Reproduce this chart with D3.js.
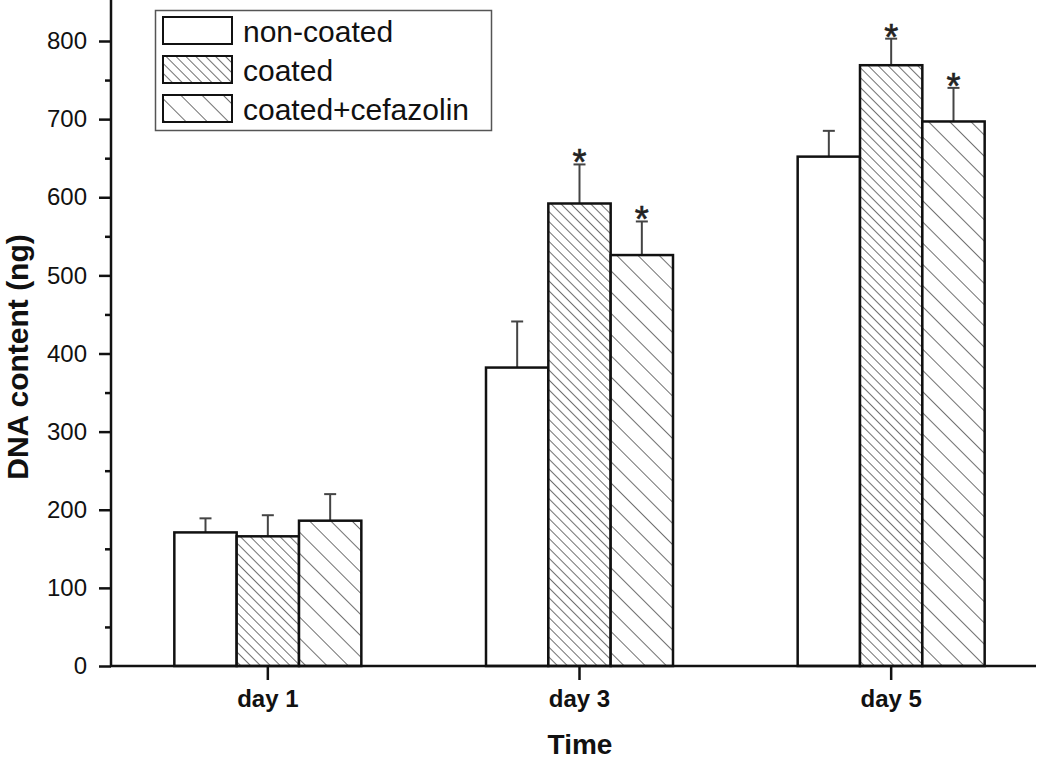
<!DOCTYPE html>
<html>
<head>
<meta charset="utf-8">
<script src="https://cdn.jsdelivr.net/npm/d3@7"></script>
<style>
  html, body { margin: 0; padding: 0; background: #ffffff; }
  svg { display: block; font-family: "Liberation Sans", Arial, sans-serif; }
</style>
</head>
<body>
<svg id="chart" width="1050" height="760"></svg>
<script>
const categories = ["day 1", "day 3", "day 5"];
const seriesNames = ["non-coated", "coated", "coated+cefazolin"];
const nonCoated = [171, 382, 652];
const coated = [166, 592, 769];
const coatedCef = [186, 526, 697];
const errNonCoated = [18, 59, 33];
const errCoated = [27, 50, 34];
const errCoatedCef = [34, 43, 43];
const sigCoated = [false, true, true];
const sigCoatedCef = [false, true, true];
const yTicks = [0, 100, 200, 300, 400, 500, 600, 700, 800];
const yMinorTicks = [50, 150, 250, 350, 450, 550, 650, 750];

const series = [
  { name: seriesNames[0], values: nonCoated, errs: errNonCoated, sig: [false,false,false], fill: "#ffffff" },
  { name: seriesNames[1], values: coated, errs: errCoated, sig: sigCoated, fill: "url(#hatchDense)" },
  { name: seriesNames[2], values: coatedCef, errs: errCoatedCef, sig: sigCoatedCef, fill: "url(#hatchSparse)" }
];

const svg = d3.select("#chart");
const defs = svg.append("defs");
function hatch(id, spacing) {
  const p = defs.append("pattern")
    .attr("id", id)
    .attr("patternUnits", "userSpaceOnUse")
    .attr("width", spacing).attr("height", spacing)
    .attr("patternTransform", "rotate(-45)");
  p.append("rect").attr("width", spacing).attr("height", spacing).attr("fill", "#ffffff");
  p.append("line").attr("x1", 0).attr("y1", 0).attr("x2", 0).attr("y2", spacing)
    .attr("stroke", "#333").attr("stroke-width", 1.4);
}
hatch("hatchDense", 7);
hatch("hatchSparse", 15);

const left = 111, right = 1047, bottom = 666;
const x0 = d3.scaleBand().domain(categories).range([left + 1, right]).paddingInner(0).paddingOuter(0);
const groupW = x0.bandwidth() * 0.6;
const x1 = d3.scaleBand().domain(seriesNames).range([0, groupW]).padding(0);
const y = d3.scaleLinear().domain([0, 850]).range([bottom, bottom - 850 * 0.78125]);

const g = svg.append("g");

series.forEach((s) => {
  categories.forEach((c, i) => {
    const bx = x0(c) + (x0.bandwidth() - groupW) / 2 + x1(s.name);
    const bw = x1.bandwidth();
    const cx = bx + bw / 2;
    const yt = y(s.values[i]), ye = y(s.values[i] + s.errs[i]);
    g.append("line").attr("x1", cx).attr("x2", cx).attr("y1", yt).attr("y2", ye)
      .attr("stroke", "#444").attr("stroke-width", 2);
    g.append("line").attr("x1", cx - 6).attr("x2", cx + 6).attr("y1", ye).attr("y2", ye)
      .attr("stroke", "#444").attr("stroke-width", 2);
    g.append("rect")
      .attr("x", bx).attr("y", yt)
      .attr("width", bw).attr("height", y(0) - yt)
      .attr("fill", s.fill).attr("stroke", "#111").attr("stroke-width", 2.5);
    if (s.sig[i]) {
      g.append("text").attr("x", cx).attr("y", ye + 11)
        .attr("text-anchor", "middle").attr("font-size", 36).attr("fill", "#222")
        .attr("stroke", "#222").attr("stroke-width", 0.6)
        .text("*");
    }
  });
});

// y axis
const yAxis = d3.axisLeft(y).tickValues(yTicks).tickSize(12).tickPadding(12).tickFormat(d3.format("d"));
const ya = svg.append("g").attr("transform", `translate(${left},0)`).call(yAxis);
ya.select(".domain").remove();
ya.selectAll(".tick line").attr("stroke", "#111").attr("stroke-width", 2.5);
ya.selectAll(".tick text").attr("font-size", 24).attr("fill", "#111")
  .attr("font-family", "Liberation Sans, Arial, sans-serif");
const yMinor = d3.axisLeft(y).tickValues(yMinorTicks).tickSize(6).tickFormat("");
const ym = svg.append("g").attr("transform", `translate(${left},0)`).call(yMinor);
ym.select(".domain").remove();
ym.selectAll(".tick line").attr("stroke", "#111").attr("stroke-width", 2.5);
svg.append("line").attr("x1", left).attr("x2", left).attr("y1", 0).attr("y2", bottom + 1)
  .attr("stroke", "#111").attr("stroke-width", 2.5);

// x axis
const xAxis = d3.axisBottom(x0).tickSize(14).tickPadding(10);
const xa = svg.append("g").attr("transform", `translate(0,${bottom})`).call(xAxis);
xa.select(".domain").remove();
xa.selectAll(".tick line").attr("stroke", "#111").attr("stroke-width", 2.5);
xa.selectAll(".tick text").attr("font-size", 24).attr("font-weight", "bold").attr("fill", "#111")
  .attr("font-family", "Liberation Sans, Arial, sans-serif");
svg.append("line").attr("x1", left - 1).attr("x2", 1036).attr("y1", bottom).attr("y2", bottom)
  .attr("stroke", "#111").attr("stroke-width", 2.5);

// axis titles
svg.append("text").attr("x", 580).attr("y", 754).attr("text-anchor", "middle")
  .attr("font-size", 28).attr("font-weight", "bold").attr("fill", "#111").text("Time");
svg.append("text").attr("transform", "translate(28,357) rotate(-90)").attr("text-anchor", "middle")
  .attr("font-size", 30).attr("font-weight", "bold").attr("fill", "#111").text("DNA content (ng)");

// legend
const lg = svg.append("g");
lg.append("rect").attr("x", 155.5).attr("y", 10.5).attr("width", 336).attr("height", 120)
  .attr("fill", "#ffffff").attr("stroke", "#555").attr("stroke-width", 1.5);
series.forEach((s, i) => {
  const yy = 17 + i * 39;
  lg.append("rect").attr("x", 163).attr("y", yy).attr("width", 69).attr("height", 27)
    .attr("fill", s.fill).attr("stroke", "#111").attr("stroke-width", 2);
  lg.append("text").attr("x", 243).attr("y", yy + 24.5).attr("font-size", 30).attr("fill", "#111")
    .text(s.name);
});
</script>
</body>
</html>
